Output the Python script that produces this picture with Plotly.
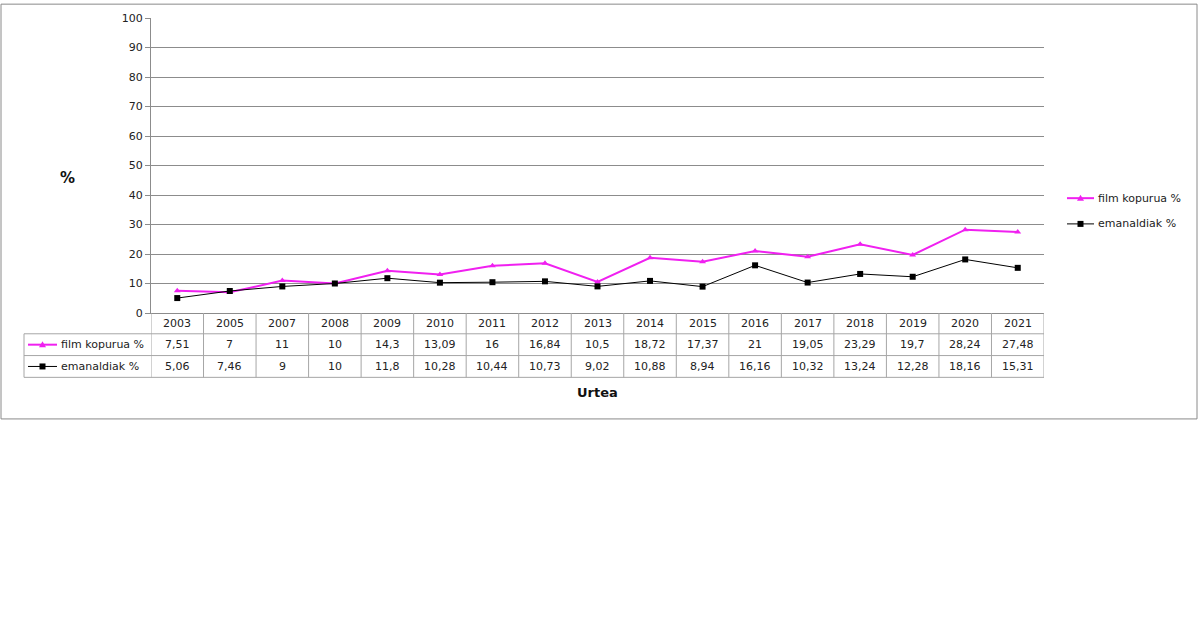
import plotly.graph_objects as go

years = ["2003", "2005", "2007", "2008", "2009", "2010", "2011", "2012", "2013",
         "2014", "2015", "2016", "2017", "2018", "2019", "2020", "2021"]
film_kopurua = [7.51, 7, 11, 10, 14.3, 13.09, 16, 16.84, 10.5, 18.72, 17.37, 21,
                19.05, 23.29, 19.7, 28.24, 27.48]
emanaldiak = [5.06, 7.46, 9, 10, 11.8, 10.28, 10.44, 10.73, 9.02, 10.88, 8.94, 16.16,
              10.32, 13.24, 12.28, 18.16, 15.31]
series_names = ["film kopurua %", "emanaldiak %"]
y_ticks = [0, 10, 20, 30, 40, 50, 60, 70, 80, 90, 100]

W, H = 1200, 639
L, R, T, B = 151, 1044, 15, 313   # plot area in pixels

def xp(px):
    return (px - L) / (R - L)

def yp(py):
    return (B - py) / (B - T)

MAGENTA = "#F020F0"
GRID = "#8c8c8c"
TABLE = "#a6a6a6"
FONT = "DejaVu Sans"
TXT = "#222"

n = len(years)
idx = list(range(n))

fig = go.Figure()
fig.add_trace(go.Scatter(x=idx, y=film_kopurua, mode="lines+markers",
                         line=dict(color=MAGENTA, width=2),
                         marker=dict(symbol="triangle-up", size=6, color=MAGENTA),
                         name=series_names[0], cliponaxis=False))
fig.add_trace(go.Scatter(x=idx, y=emanaldiak, mode="lines+markers",
                         line=dict(color="black", width=1),
                         marker=dict(symbol="square", size=6, color="black"),
                         name=series_names[1], cliponaxis=False))

shapes = []
annotations = []

def text(x, y, s, xref="paper", xanchor="center", size=11, color=TXT):
    annotations.append(dict(x=x, y=y, xref=xref, yref="paper", text=s, showarrow=False,
                            xanchor=xanchor, yanchor="middle",
                            font=dict(size=size, color=color)))

# outer border
shapes.append(dict(type="rect", xref="paper", yref="paper",
                   x0=xp(1), x1=xp(1197), y0=yp(1), y1=yp(420),
                   line=dict(color="#8a8a8a", width=1), fillcolor="rgba(0,0,0,0)"))

# data table
row_y = [313, 334, 356, 378]
for ry in row_y[1:]:
    shapes.append(dict(type="line", xref="paper", yref="paper",
                       x0=xp(24), x1=xp(R), y0=yp(ry), y1=yp(ry),
                       line=dict(color=TABLE, width=1)))
shapes.append(dict(type="line", xref="paper", yref="paper",
                   x0=xp(24), x1=xp(24), y0=yp(334), y1=yp(378),
                   line=dict(color=TABLE, width=1)))
for i in range(n + 1):
    shapes.append(dict(type="line", xref="x", yref="paper",
                       x0=i - 0.5, x1=i - 0.5, y0=yp(313), y1=yp(378),
                       line=dict(color=TABLE, width=1)))

def fmt(v):
    return f"{v:g}".replace(".", ",")

for i, yr in enumerate(years):
    text(i, yp(323.5), yr, xref="x")
    text(i, yp(345), fmt(film_kopurua[i]), xref="x")
    text(i, yp(367), fmt(emanaldiak[i]), xref="x")

# legend keys (table and right legend)
def legend_key(x0px, x1px, ypx, color, width, symbol):
    shapes.append(dict(type="line", xref="paper", yref="paper",
                       x0=xp(x0px), x1=xp(x1px), y0=yp(ypx), y1=yp(ypx),
                       line=dict(color=color, width=width)))
    cx = (x0px + x1px) / 2
    if symbol == "tri":
        shapes.append(dict(type="path", xref="paper", yref="paper",
                           xsizemode="pixel", ysizemode="pixel",
                           xanchor=xp(cx), yanchor=yp(ypx),
                           path="M -3.5 -2.5 L 3.5 -2.5 L 0 3.5 Z",
                           fillcolor=color, line=dict(color=color, width=0)))
    else:
        shapes.append(dict(type="rect", xref="paper", yref="paper",
                           xsizemode="pixel", ysizemode="pixel",
                           xanchor=xp(cx), yanchor=yp(ypx),
                           x0=-3, x1=3, y0=-3, y1=3,
                           fillcolor=color, line=dict(color=color, width=0)))

legend_key(28, 57, 345, MAGENTA, 2, "tri")
legend_key(28, 57, 367, "black", 1, "sq")
text(xp(59), yp(345), series_names[0], xanchor="left")
text(xp(59), yp(367), series_names[1], xanchor="left")

legend_key(1067, 1094, 197, MAGENTA, 2, "tri")
legend_key(1067, 1094, 223, "black", 1, "sq")
text(xp(1096), yp(197), series_names[0], xanchor="left")
text(xp(1096), yp(223), series_names[1], xanchor="left")

# axis titles
text(xp(67), yp(177), "<b>%</b>", size=15, color="#111")
text(xp(597), yp(393), "<b>Urtea</b>", size=13, color="#111")

fig.update_layout(
    width=W, height=H,
    margin=dict(l=L, r=W - R, t=T, b=H - B, pad=0),
    paper_bgcolor="white", plot_bgcolor="white",
    showlegend=False,
    font=dict(family=FONT, size=11, color=TXT),
    shapes=shapes, annotations=annotations,
    xaxis=dict(range=[-0.5, n - 0.5], showgrid=False, zeroline=False,
               showticklabels=False, ticks="", showline=True, linecolor=GRID, linewidth=1,
               fixedrange=True),
    yaxis=dict(range=[0, 100], tickvals=y_ticks, showgrid=True, gridcolor=GRID, gridwidth=1,
               zeroline=False, showline=True, linecolor=GRID, linewidth=1,
               ticks="outside", ticklen=5, tickcolor=GRID, tickfont=dict(size=11, color=TXT),
               fixedrange=True),
)

fig.write_html("out.html", config={"displayModeBar": False},
               post_script="document.body.style.margin='0';document.body.style.padding='0';")
